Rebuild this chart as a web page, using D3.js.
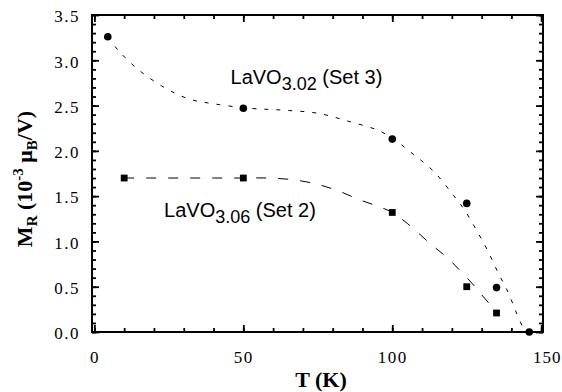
<!DOCTYPE html>
<html><head><meta charset="utf-8">
<script src="https://cdn.jsdelivr.net/npm/d3@7"></script>
<style>
html,body{margin:0;padding:0;background:#fff;}
svg{display:block;}
</style></head>
<body>
<script>
// ---- data ----
const set3T = [4.5, 50, 100, 125, 135, 146];
const set3M = [3.26, 2.47, 2.13, 1.42, 0.49, 0.0];
const set2T = [10, 50, 100, 125, 135];
const set2M = [1.70, 1.70, 1.32, 0.50, 0.21];
const fit3T = [4.5, 8, 15, 24, 32, 40, 52, 63, 75, 86, 95, 100, 106, 114, 120.5, 124, 128, 132, 135.6, 139, 141.7, 144.5];
const fit3M = [3.26, 3.11, 2.89, 2.69, 2.57, 2.52, 2.47, 2.45, 2.415, 2.32, 2.23, 2.14, 1.99, 1.77, 1.51, 1.36, 1.14, 0.9, 0.65, 0.43, 0.21, 0.0];
const fit2T = [10, 20, 30, 40, 50, 58, 67, 75, 82.5, 89, 95, 100, 105, 112.6, 118.8, 122.7, 126.7, 129.5, 132.9, 135];
const fit2M = [1.70, 1.70, 1.70, 1.70, 1.70, 1.70, 1.68, 1.63, 1.55, 1.46, 1.39, 1.32, 1.2, 0.98, 0.81, 0.68, 0.54, 0.43, 0.30, 0.21];
const xTicks = [0, 50, 100, 150];
const yTicks = [0, 0.5, 1.0, 1.5, 2.0, 2.5, 3.0, 3.5];
const xMinor = d3.range(0, 151, 10);
const yMinor = d3.range(0, 36, 1).map(d => d / 10);
const label3 = {main: "LaVO", sub: "3.02", rest: " (Set 3)", T: 45.7, M: 2.74};
const label2 = {main: "LaVO", sub: "3.06", rest: " (Set 2)", T: 23.4, M: 1.27};

// ---- layout ----
const W = 562, H = 392;
const pL = 92, pR = 543, pT = 15, pB = 332;
const x = d3.scaleLinear().domain([-0.8, 150.6]).range([pL, pR]);
const y = d3.scaleLinear().domain([0, 3.5]).range([pB, pT]);

const svg = d3.select("body").append("svg").attr("width", W).attr("height", H);

function styleAxis(g) {
  g.select(".domain").remove();
  g.selectAll(".tick line").attr("stroke", "#000").attr("stroke-width", 1.8);
}

// minor ticks
svg.append("g").attr("transform", `translate(0,${pB})`)
  .call(d3.axisBottom(x).tickValues(xMinor).tickSize(-4).tickFormat(""))
  .call(styleAxis);
svg.append("g").attr("transform", `translate(0,${pT})`)
  .call(d3.axisTop(x).tickValues(xMinor).tickSize(-4).tickFormat(""))
  .call(styleAxis);
svg.append("g").attr("transform", `translate(${pL},0)`)
  .call(d3.axisLeft(y).tickValues(yMinor).tickSize(-4).tickFormat(""))
  .call(styleAxis);
svg.append("g").attr("transform", `translate(${pR},0)`)
  .call(d3.axisRight(y).tickValues(yMinor).tickSize(-4).tickFormat(""))
  .call(styleAxis);

// major ticks
const xAx = svg.append("g").attr("transform", `translate(0,${pB})`)
  .call(d3.axisBottom(x).tickValues(xTicks).tickSize(-7).tickPadding(19).tickFormat(d3.format("d")))
  .call(styleAxis);
svg.append("g").attr("transform", `translate(0,${pT})`)
  .call(d3.axisTop(x).tickValues(xTicks).tickSize(-7).tickFormat(""))
  .call(styleAxis);
const yAx = svg.append("g").attr("transform", `translate(${pL},0)`)
  .call(d3.axisLeft(y).tickValues(yTicks).tickSize(-7).tickPadding(12).tickFormat(d3.format(".1f")))
  .call(styleAxis);
svg.append("g").attr("transform", `translate(${pR},0)`)
  .call(d3.axisRight(y).tickValues(yTicks).tickSize(-7).tickFormat(""))
  .call(styleAxis);

[xAx, yAx].forEach(g => g.selectAll(".tick text")
  .attr("font-family", "'Liberation Serif', 'Times New Roman', serif")
  .attr("font-size", 17).attr("letter-spacing", 1.5).attr("fill", "#000"));
xAx.selectAll(".tick text").filter(d => d === 150)
  .attr("text-anchor", "end").attr("letter-spacing", 1).attr("x", W - 1 - x(150));
yAx.selectAll(".tick text").attr("dy", "0.4em");

// frame
svg.append("rect").attr("x", pL).attr("y", pT)
  .attr("width", pR - pL).attr("height", pB - pT)
  .attr("fill", "none").attr("stroke", "#000").attr("stroke-width", 2);

// fit curves
const line = d3.line().x(d => x(d[0])).y(d => y(d[1])).curve(d3.curveCatmullRom);
svg.append("path").datum(fit3T.map((t, i) => [t, fit3M[i]]))
  .attr("d", line).attr("fill", "none").attr("stroke", "#000")
  .attr("stroke-width", 1).attr("stroke-dasharray", "4,8");
svg.append("path").datum(fit2T.map((t, i) => [t, fit2M[i]]))
  .attr("d", line).attr("fill", "none").attr("stroke", "#000")
  .attr("stroke-width", 1).attr("stroke-dasharray", "10,12");

// markers
svg.append("g").selectAll("circle").data(set3T.map((t, i) => [t, set3M[i]]))
  .join("circle").attr("cx", d => x(d[0])).attr("cy", d => y(d[1])).attr("r", 3.8).attr("fill", "#000");
svg.append("g").selectAll("rect").data(set2T.map((t, i) => [t, set2M[i]]))
  .join("rect").attr("x", d => x(d[0]) - 3.4).attr("y", d => y(d[1]) - 3.4)
  .attr("width", 6.8).attr("height", 6.8).attr("fill", "#000");

// series labels
function seriesLabel(l) {
  const t = svg.append("text").attr("x", x(l.T)).attr("y", y(l.M))
    .attr("font-family", "'Liberation Sans', Arial, sans-serif").attr("font-size", 20).attr("fill", "#000");
  t.append("tspan").text(l.main);
  t.append("tspan").attr("font-size", 18).attr("dy", 6).text(l.sub);
  t.append("tspan").attr("dy", -6).text(l.rest);
}
seriesLabel(label3);
seriesLabel(label2);

// axis titles
svg.append("text").attr("x", 321).attr("y", 387).attr("text-anchor", "middle")
  .attr("font-family", "'Liberation Serif', 'Times New Roman', serif").attr("font-weight", "bold")
  .attr("font-size", 22).text("T (K)");

const yt = svg.append("text").attr("transform", "translate(32,179) rotate(-90)")
  .attr("text-anchor", "middle")
  .attr("font-family", "'Liberation Serif', 'Times New Roman', serif").attr("font-weight", "bold")
  .attr("font-size", 22);
yt.append("tspan").text("M");
yt.append("tspan").attr("font-size", 15).attr("dy", 5).text("R");
yt.append("tspan").attr("dy", -5).text(" (10");
yt.append("tspan").attr("font-size", 15).attr("dy", -9).text("-3");
yt.append("tspan").attr("dy", 9).text(" \u03bc");
yt.append("tspan").attr("font-size", 15).attr("dy", 5).text("B");
yt.append("tspan").attr("dy", -5).text("/V)");
</script>
</body></html>
